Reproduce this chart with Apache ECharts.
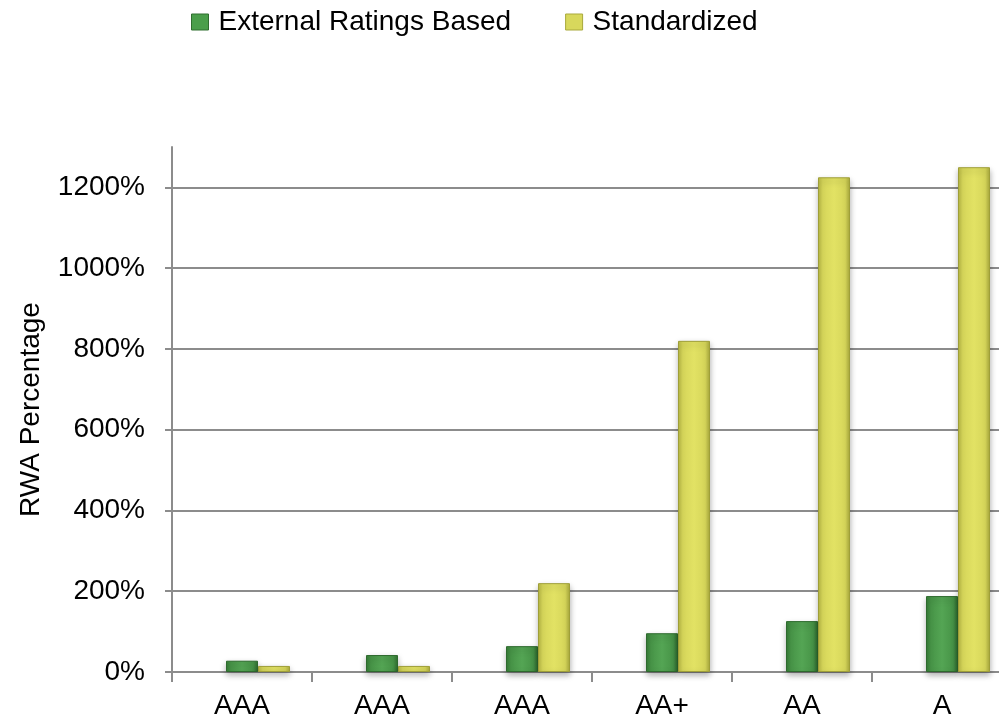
<!DOCTYPE html>
<html><head><meta charset="utf-8">
<script src="https://cdn.jsdelivr.net/npm/echarts@6/dist/echarts.min.js"></script>
<style>html,body{margin:0;padding:0;background:#fff}#c{width:999px;height:723px}</style>
</head><body><div id="c"></div>
<script>
var categories = ['AAA', 'AAA', 'AAA', 'AA+', 'AA', 'A'];
var externalRatingsBased = [28, 42, 64, 96, 126, 188];
var standardized = [15, 15, 220, 820, 1225, 1250];
var yTicks = [0, 200, 400, 600, 800, 1000, 1200];

var chart = echarts.init(document.getElementById('c'));
var font = 'Liberation Sans, Arial, sans-serif';
var greenGrad = new echarts.graphic.LinearGradient(0, 0, 1, 0, [
  {offset: 0, color: '#357a35'}, {offset: 0.15, color: '#479447'},
  {offset: 0.5, color: '#54a554'}, {offset: 0.85, color: '#479447'}, {offset: 1, color: '#2f6e2f'}]);
var yellowGrad = new echarts.graphic.LinearGradient(0, 0, 1, 0, [
  {offset: 0, color: '#b7b743'}, {offset: 0.15, color: '#d6d65a'},
  {offset: 0.5, color: '#e2e264'}, {offset: 0.85, color: '#d6d65a'}, {offset: 1, color: '#a9a93c'}]);
var gridColors = yTicks.map(function(){return '#8c8c8c';}).concat(['rgba(0,0,0,0)']);

chart.setOption({
  animation: false,
  legend: {
    data: [
      {name: 'External Ratings Based', itemStyle: {color: '#4a9e4a', borderColor: '#2f6e2f', borderWidth: 1}},
      {name: 'Standardized', itemStyle: {color: '#d8d85c', borderColor: '#a9a93c', borderWidth: 1}}
    ],
    left: 186, top: 3, itemWidth: 17, itemHeight: 16, itemGap: 54,
    icon: 'rect',
    textStyle: {fontFamily: font, fontSize: 28, color: '#000', padding: [0, 0, 0, 5]}
  },
  grid: {left: 172, width: 840, top: 147, bottom: 51, containLabel: false, outerBoundsMode: 'none'},
  xAxis: {
    type: 'category', data: categories,
    axisLine: {lineStyle: {color: '#8c8c8c', width: 2}},
    axisTick: {show: true, length: 10, lineStyle: {color: '#8c8c8c', width: 2}},
    axisLabel: {fontFamily: font, fontSize: 28, color: '#000', margin: 20}
  },
  yAxis: {
    type: 'value', min: 0, max: 1300, interval: 200,
    name: 'RWA Percentage', nameLocation: 'middle', nameGap: 127, nameRotate: 90,
    nameTextStyle: {fontFamily: font, fontSize: 28, color: '#000'},
    axisLine: {show: true, lineStyle: {color: '#8c8c8c', width: 2}},
    axisTick: {show: true, length: 7, lineStyle: {color: '#8c8c8c', width: 2}},
    axisLabel: {fontFamily: font, fontSize: 28, color: '#000', margin: 27, showMaxLabel: false,
      formatter: function(v){ return yTicks.indexOf(v) >= 0 ? v + '%' : ''; }},
    splitLine: {show: true, lineStyle: {color: gridColors, width: 2}}
  },
  series: [
    {name: '_spacer', type: 'bar', data: [], barWidth: 32, barGap: 0, silent: true},
    {name: 'External Ratings Based', type: 'bar', data: externalRatingsBased, barWidth: 32, barGap: 0,
      itemStyle: {color: greenGrad, borderColor: '#2e6a2e', borderWidth: 1,
        shadowColor: 'rgba(0,0,0,0.3)', shadowBlur: 6, shadowOffsetY: 3}},
    {name: 'Standardized', type: 'bar', data: standardized, barWidth: 32, barGap: 0,
      itemStyle: {color: yellowGrad, borderColor: '#9f9f38', borderWidth: 1,
        shadowColor: 'rgba(0,0,0,0.3)', shadowBlur: 6, shadowOffsetY: 3}}
  ]
});
</script></body></html>
